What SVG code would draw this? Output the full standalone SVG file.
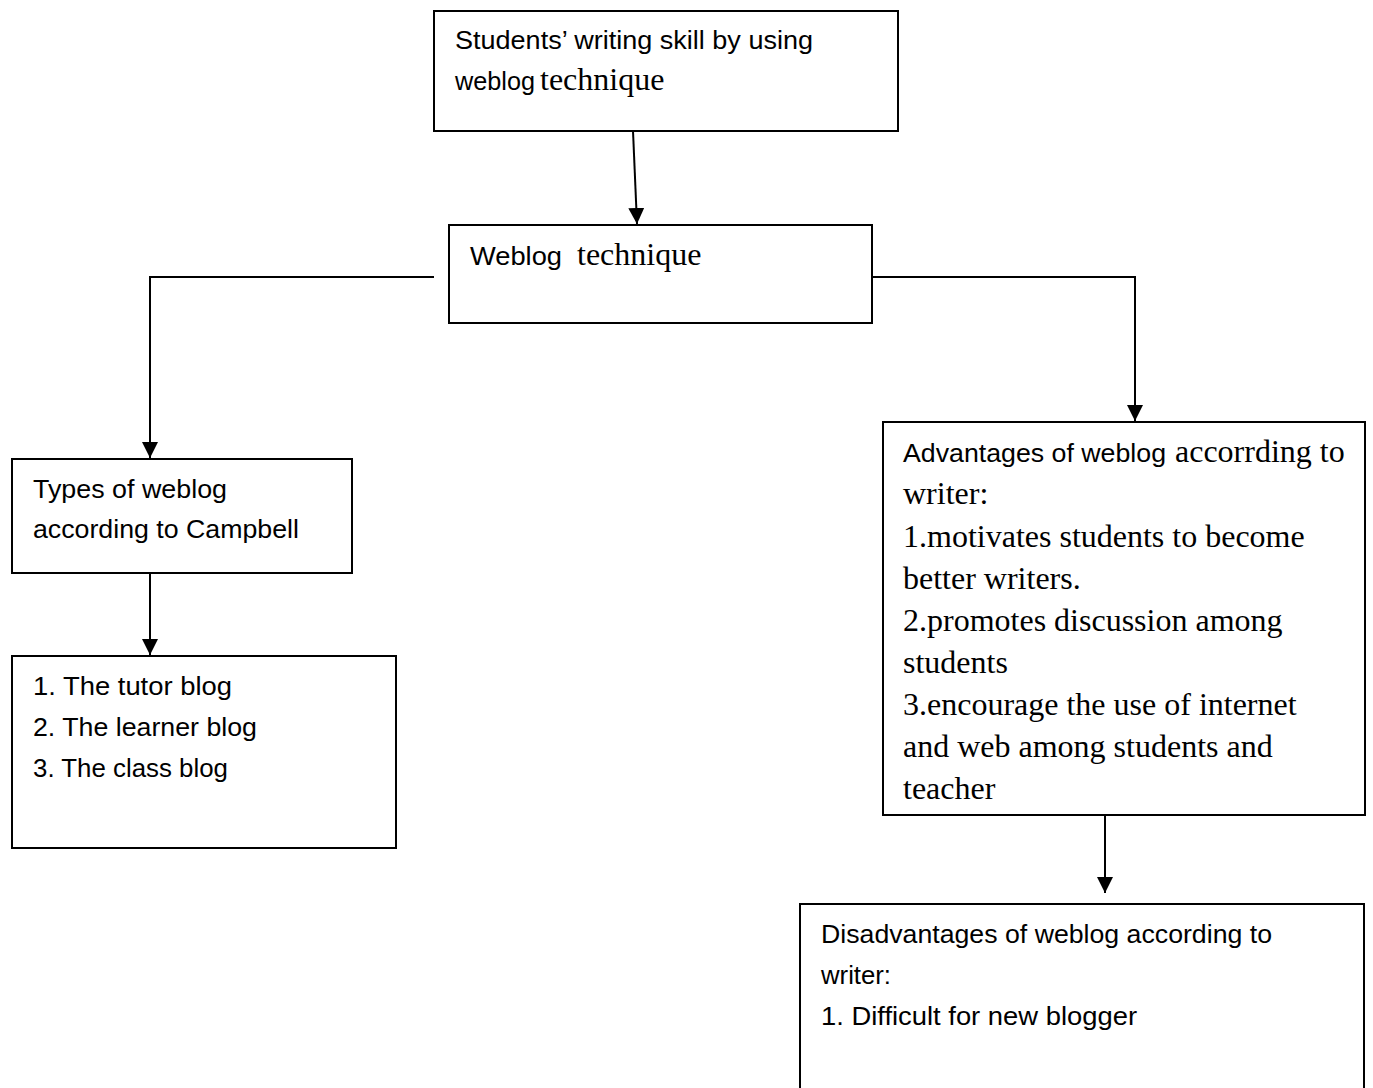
<svg xmlns="http://www.w3.org/2000/svg" width="1373" height="1088" viewBox="0 0 1373 1088">
<style>
.box{fill:#fff;stroke:#000;stroke-width:2}
.s{font-family:"Liberation Sans",Arial,sans-serif;font-size:26px;fill:#000}
.r{font-family:"Liberation Serif","Times New Roman",serif;font-size:32px;fill:#000}
.c{fill:none;stroke:#000;stroke-width:2}
</style>
<defs>
<marker id="ah" viewBox="0 0 10 10" refX="10" refY="5" markerWidth="8" markerHeight="8" markerUnits="strokeWidth" orient="auto">
<path d="M0,0 L10,5 L0,10 z" fill="#000"/>
</marker>
</defs>
<rect width="1373" height="1088" fill="#fff"/>
<g id="connectors">
<line class="c" x1="633" y1="131" x2="637" y2="224" marker-end="url(#ah)"/>
<polyline class="c" points="434,277 150,277 150,458" marker-end="url(#ah)"/>
<polyline class="c" points="872,277 1135,277 1135,421" marker-end="url(#ah)"/>
<line class="c" x1="150" y1="573" x2="150" y2="655" marker-end="url(#ah)"/>
<line class="c" x1="1105" y1="815" x2="1105" y2="893" marker-end="url(#ah)"/>
</g>
<g id="node-top">
<rect class="box" x="434" y="11" width="464" height="120"/>
<text class="s" x="455" y="49" textLength="358" lengthAdjust="spacingAndGlyphs">Students’ writing skill by using</text>
<text class="s" x="455" y="90" textLength="80" lengthAdjust="spacingAndGlyphs">weblog</text>
<text class="r" x="540" y="90">technique</text>
</g>
<g id="node-weblog">
<rect class="box" x="449" y="225" width="423" height="98"/>
<text class="s" x="470" y="265" textLength="92" lengthAdjust="spacingAndGlyphs">Weblog</text>
<text class="r" x="577" y="265">technique</text>
</g>
<g id="node-types">
<rect class="box" x="12" y="459" width="340" height="114"/>
<text class="s" x="33" y="498" textLength="194" lengthAdjust="spacingAndGlyphs">Types of weblog</text>
<text class="s" x="33" y="538" textLength="266" lengthAdjust="spacingAndGlyphs">according to Campbell</text>
</g>
<g id="node-list">
<rect class="box" x="12" y="656" width="384" height="192"/>
<text class="s" x="33" y="695" textLength="199" lengthAdjust="spacingAndGlyphs">1. The tutor blog</text>
<text class="s" x="33" y="736" textLength="224" lengthAdjust="spacingAndGlyphs">2. The learner blog</text>
<text class="s" x="33" y="777" textLength="195" lengthAdjust="spacingAndGlyphs">3. The class blog</text>
</g>
<g id="node-advantages">
<rect class="box" x="883" y="422" width="482" height="393"/>
<text class="s" x="903" y="462" textLength="263" lengthAdjust="spacingAndGlyphs">Advantages of weblog</text>
<text class="r" x="1175" y="462">accorrding to</text>
<text class="r" x="903" y="504">writer:</text>
<text class="r" x="903" y="547">1.motivates students to become</text>
<text class="r" x="903" y="589">better writers.</text>
<text class="r" x="903" y="631">2.promotes discussion among</text>
<text class="r" x="903" y="673">students</text>
<text class="r" x="903" y="715">3.encourage the use of internet</text>
<text class="r" x="903" y="757">and web among students and</text>
<text class="r" x="903" y="799">teacher</text>
</g>
<g id="node-disadvantages">
<rect class="box" x="800" y="904" width="564" height="200"/>
<text class="s" x="821" y="943" textLength="451" lengthAdjust="spacingAndGlyphs">Disadvantages of weblog according to</text>
<text class="s" x="821" y="984" textLength="70" lengthAdjust="spacingAndGlyphs">writer:</text>
<text class="s" x="821" y="1025" textLength="316" lengthAdjust="spacingAndGlyphs">1. Difficult for new blogger</text>
</g>
</svg>
